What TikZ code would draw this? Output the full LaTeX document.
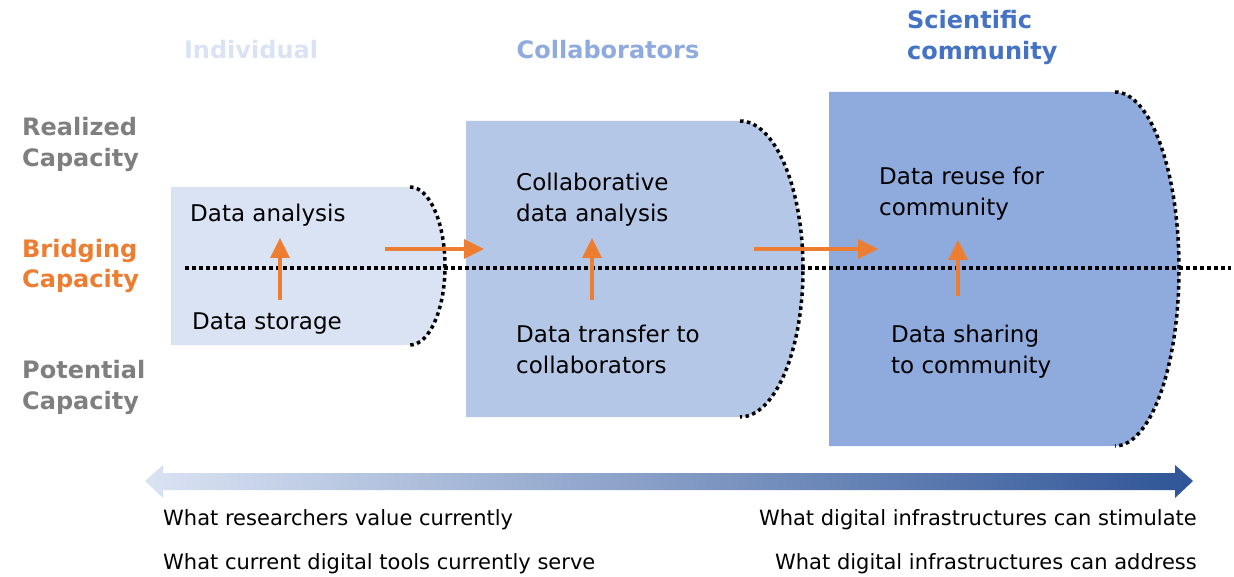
\documentclass[tikz,border=0pt]{standalone}
\usepackage{fontspec}
\setmainfont{DejaVu Sans}
\usetikzlibrary{arrows.meta}
\definecolor{lite}{HTML}{DAE3F3}
\definecolor{mid}{HTML}{B4C7E7}
\definecolor{deep}{HTML}{8FAADC}
\definecolor{sci}{HTML}{4472C4}
\definecolor{capgray}{HTML}{7F7F7F}
\definecolor{bridge}{HTML}{ED7D31}
\definecolor{navy}{HTML}{2F5597}

\begin{document}
\begin{tikzpicture}[x=1pt,y=-1pt,
hdr/.style={font=\fontsize{24}{31}\selectfont\bfseries, inner sep=0pt, align=left, anchor=base west},
txt/.style={font=\fontsize{23}{31}\selectfont, inner sep=0pt, align=left, anchor=base west},
foot/.style={font=\fontsize{21}{24}\selectfont, inner sep=0pt},
dots/.style={line width=3.5pt, dash pattern=on 3.5pt off 3.5pt},
orng/.style={bridge, line width=3.5pt, -{Triangle[length=20pt,width=19pt]}}]
\useasboundingbox (0,0) rectangle (1234,577);
\fill[lite] (171,187) -- (410,187) arc[start angle=90,end angle=-90,x radius=35pt,y radius=79pt] -- (171,345) -- cycle;
\draw[dots] (410,187) arc[start angle=90,end angle=-90,x radius=35pt,y radius=79pt];
\fill[mid] (466,121) -- (740,121) arc[start angle=90,end angle=-90,x radius=63pt,y radius=148pt] -- (466,417) -- cycle;
\draw[dots] (740,121) arc[start angle=90,end angle=-90,x radius=63pt,y radius=148pt];
\fill[deep] (829,92) -- (1115,92) arc[start angle=90,end angle=-90,x radius=64pt,y radius=177pt] -- (829,446) -- cycle;
\draw[dots] (1115,92) arc[start angle=90,end angle=-90,x radius=64pt,y radius=177pt];
\coordinate (l0) at (185,268);
\coordinate (l1) at (1231,268);
\draw[dots] (l0) -- (l1);
\node[hdr, lite, anchor=base] (hind) at (251,59) {Individual};
\node[hdr, deep, anchor=base] (hcol) at (608,59) {Collaborators};
\node[hdr, sci] (hsci) at (907,60) {Scientific\\community};
\node[hdr, capgray] (lreal) at (22,167) {Realized\\Capacity};
\node[hdr, bridge] (lbri) at (22,288) {Bridging\\Capacity};
\node[hdr, capgray] (lpot) at (22,409) {Potential\\Capacity};
\node[txt] (t1a) at (190,222) {Data analysis};
\node[txt] (t1b) at (192,330) {Data storage};
\node[txt] (t2a) at (516,222) {Collaborative\\data analysis};
\node[txt] (t2b) at (516,373) {Data transfer to\\collaborators};
\node[txt] (t3a) at (879,216) {Data reuse for\\community};
\node[txt] (t3b) at (891,373) {Data sharing\\to community};
\coordinate (v1) at (280,300);
\coordinate (w1) at (280,238);
\coordinate (v2) at (592,300);
\coordinate (w2) at (592,238);
\coordinate (v3) at (958,296);
\coordinate (w3) at (958,240);
\coordinate (h1) at (385,249);
\coordinate (k1) at (484,249);
\coordinate (h2) at (754,249);
\coordinate (k2) at (878,249);
\draw[orng] (v1) -- (w1);
\draw[orng] (v2) -- (w2);
\draw[orng] (v3) -- (w3);
\draw[orng] (h1) -- (k1);
\draw[orng] (h2) -- (k2);
\shade[left color=lite, right color=navy] (145,481) -- (163,465) -- (163,473) -- (1175,473) -- (1175,465)
  -- (1193,481) -- (1175,498) -- (1175,490) -- (163,490) -- (163,498) -- cycle;
\node[foot, anchor=base west] (f1) at (163,525) {What researchers value currently};
\node[foot, anchor=base west] (f2) at (163,569) {What current digital tools currently serve};
\node[foot, anchor=base east] (f3) at (1197,525) {What digital infrastructures can stimulate};
\node[foot, anchor=base east] (f4) at (1197,569) {What digital infrastructures can address};
\end{tikzpicture}
\end{document}
